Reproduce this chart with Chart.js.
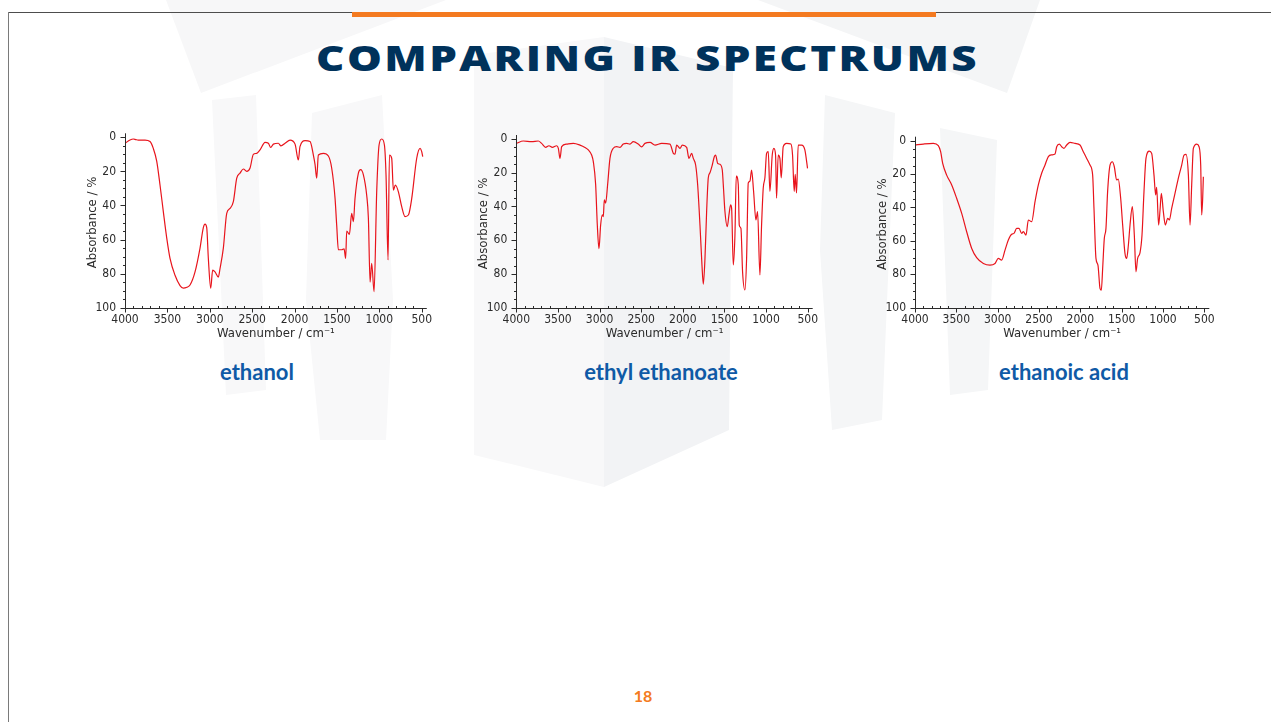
<!DOCTYPE html>
<html>
<head>
<meta charset="utf-8">
<title>Comparing IR spectrums</title>
<script src="https://cdn.jsdelivr.net/npm/chart.js@4.4.1/dist/chart.umd.min.js"></script>
<style>
  html, body { margin: 0; padding: 0; background: #fff; }
  body { width: 1271px; height: 722px; position: relative; overflow: hidden; font-family: Lato, "Open Sans", sans-serif; }
  svg.bg { position: absolute; left: 0; top: 0; }
  .frame-top { position: absolute; left: 8px; top: 12px; width: 1263px; height: 1px; background: #4d4d4d; }
  .frame-left { position: absolute; left: 8px; top: 12px; width: 1px; height: 710px; background: #7a7a7a; }
  .accent { position: absolute; left: 352px; top: 12px; width: 584px; height: 5px; background: #f47a20; }
  #title { position: absolute; left: 316px; top: 33px; margin: 0; font-family: "Open Sans", Lato, sans-serif; font-weight: 800;
           font-size: 36px; line-height: 50px; letter-spacing: 2px; color: #00325b; white-space: nowrap;
           transform-origin: 0 50%; }
  canvas { position: absolute; }
  .cap { position: absolute; font-family: Lato, sans-serif; font-weight: 700; font-size: 22px; line-height: 22px;
         color: #0f5aa6; white-space: nowrap; transform: translateX(-50%); }
  .page { position: absolute; left: 643px; top: 688px; transform: translateX(-50%); font-family: Lato, sans-serif;
          font-weight: 700; font-size: 16px; line-height: 16px; color: #f47a20; }
</style>
</head>
<body>
<svg class="bg" width="1271" height="722" viewBox="0 0 1271 722">
  <polygon points="166,0 446,0 201,93" fill="#f7f7f8"/>
  <polygon points="758,0 1040,0 1007,93" fill="#f4f5f6"/>
  <polygon points="474,55 604,37 604,487 474,455" fill="#f8f8f9"/>
  <polygon points="604,37 733,68 729,430 604,487" fill="#f2f3f5"/>
  <polygon points="212,100 256,95 266,390 226,395" fill="#f8f8f9"/>
  <polygon points="312,113 382,95 393,300 386,440 320,440 306,300" fill="#f8f8f9"/>
  <polygon points="825,95 895,113 882,420 832,430 820,250" fill="#f5f6f7"/>
  <polygon points="940,128 997,140 988,390 950,395" fill="#f5f6f7"/>
</svg>
<div class="frame-top"></div>
<div class="frame-left"></div>
<div class="accent"></div>
<h1 id="title">COMPARING IR SPECTRUMS</h1>

<canvas id="chartEthanol"></canvas>
<canvas id="chartEster"></canvas>
<canvas id="chartAcid"></canvas>

<div class="cap" style="left:257px; top:361px;">ethanol</div>
<div class="cap" style="left:661px; top:361px;">ethyl ethanoate</div>
<div class="cap" style="left:1064px; top:361px;">ethanoic acid</div>
<div class="page">18</div>

<script>
// ---- spectra: wavenumber (cm-1) and absorbance (%) ----
const ethanolWn = [4000, 3941, 3902, 3870, 3843, 3764, 3705, 3666, 3626, 3587, 3548, 3508, 3469, 3410, 3351, 3312, 3270, 3233,
  3174, 3115, 3076, 3056, 3036, 3017, 2989, 2966, 2938, 2899, 2879, 2840, 2800, 2761, 2722, 2682, 2643, 2604, 2564, 2525,
  2486, 2446, 2407, 2348, 2309, 2281, 2250, 2191, 2160, 2112, 2053, 1994, 1955, 1936, 1876, 1817, 1778, 1758, 1739, 1719,
  1660, 1601, 1562, 1522, 1503, 1483, 1444, 1416, 1397, 1385, 1353, 1326, 1306, 1287, 1247, 1220, 1188, 1149, 1129, 1109,
  1090, 1062, 1031, 1003, 972, 940, 921, 897, 881, 854, 834, 811, 775, 736, 697, 657, 618, 559, 519, 500, 488];
const ethanolAbs = [3.5, 1.6, 1.0, 1.4, 1.6, 1.6, 2.5, 6.5, 14, 28, 43.6, 59, 71, 81, 87, 88.5, 88, 86.7,
  79, 65, 53, 51, 53, 71, 88.6, 78, 79, 82, 77, 65, 44.6, 41.7, 37.8, 24, 21, 18.6, 20, 18,
  10, 9.4, 7.4, 3, 3.5, 6, 4, 3.5, 5, 3.5, 1.6, 4, 13.3, 5.5, 2, 2.5, 10.4, 16, 24, 10.4,
  9.4, 11, 18, 36, 51.5, 66, 66, 65.5, 71, 55, 57, 44.6, 49.5, 36, 21, 19, 22, 34, 47.5, 85,
  74, 90.6, 32, 4.5, 1, 4.5, 22, 72, 10.4, 12.3, 31, 28, 32, 40.7, 46.5, 45.6, 36, 12.3, 6.5, 8.4, 11.3];

const esterWn = [4000, 3916, 3816, 3736, 3696, 3648, 3608, 3567, 3515, 3495, 3475, 3455, 3395, 3315, 3235, 3175, 3135, 3095,
  3075, 3047, 3027, 3007, 2987, 2967, 2955, 2943, 2927, 2903, 2875, 2835, 2795, 2755, 2715, 2675, 2635, 2595, 2535, 2495,
  2455, 2394, 2334, 2254, 2154, 2114, 2094, 2074, 2034, 2006, 1954, 1926, 1894, 1874, 1846, 1822, 1794, 1770, 1754, 1734,
  1714, 1694, 1674, 1646, 1622, 1606, 1582, 1554, 1526, 1514, 1494, 1466, 1446, 1426, 1414, 1394, 1374, 1358, 1334, 1322,
  1302, 1282, 1254, 1234, 1214, 1194, 1174, 1150, 1122, 1102, 1074, 1054, 1034, 1014, 994, 974, 954, 926, 906, 886, 874,
  854, 834, 818, 794, 754, 702, 682, 662, 650, 634, 614, 574, 534, 502];
const esterAbs = [2.6, 1.2, 1.6, 1.2, 2.6, 5, 4, 5, 4, 5.5, 11.5, 4.5, 3, 2.6, 3.6, 5, 6.5, 9.5,
  13.4, 27, 51, 65, 51, 45, 46, 36, 38, 27, 11.5, 5.5, 4.5, 5, 3, 2.6, 3, 1.6, 3, 4.7,
  2.6, 2, 3.6, 2.6, 3, 8.5, 9, 3.6, 5.5, 3.6, 5, 11.5, 8.5, 11.5, 15.4, 27, 51, 74.7, 86, 71,
  43, 23, 20, 15.4, 10.5, 9.5, 14.4, 15, 18.4, 27, 43, 52, 45, 39, 41, 74.7, 57, 22, 27, 51,
  53, 79, 89.5, 71, 26, 25, 18.4, 31, 48, 43, 80.6, 51, 29, 23, 8.5, 7.5, 31, 9.5, 5.5, 9.5, 35,
  9.5, 11.5, 23, 4.5, 2.6, 3, 9.5, 31, 21, 32, 3.6, 3.6, 6.5, 17.4];

const acidWn = [4000, 3899, 3778, 3718, 3690, 3665, 3617, 3556, 3496, 3435, 3375, 3314, 3254, 3173, 3093, 3032, 2992, 2952,
  2911, 2871, 2831, 2803, 2770, 2742, 2710, 2690, 2657, 2629, 2589, 2548, 2508, 2468, 2427, 2387, 2347, 2306, 2286, 2254,
  2226, 2198, 2165, 2125, 2065, 2004, 1964, 1923, 1883, 1851, 1835, 1811, 1787, 1762, 1746, 1730, 1710, 1690, 1670, 1641,
  1613, 1589, 1561, 1541, 1512, 1488, 1460, 1440, 1419, 1399, 1371, 1347, 1327, 1307, 1278, 1254, 1230, 1206, 1166, 1137,
  1109, 1089, 1077, 1053, 1036, 1020, 996, 972, 943, 923, 895, 855, 815, 774, 746, 722, 693, 673, 653, 633, 592, 564, 544,
  532, 520, 512];
const acidAbs = [2.6, 2, 1.6, 3, 6.6, 13.6, 20.6, 26.5, 34.5, 43.5, 54.5, 64.5, 70, 73.5, 74.5, 73.5, 70.5, 71.5,
  65.5, 59.5, 56, 55.5, 52.5, 52.5, 55.5, 54.5, 56.5, 47.5, 48.5, 36.5, 26.5, 19.5, 14.5, 9.5, 8.5, 8, 3.6, 2,
  3.6, 4.6, 2.6, 1, 1.6, 2.6, 6.6, 10.6, 14.6, 20.6, 40.5, 70.5, 74.5, 88.4, 89.5, 76.5, 58.5, 52.5, 30.5, 14.6,
  12.6, 15.6, 23.5, 23, 34.5, 50.5, 67.5, 70.5, 62.6, 50.5, 39.5, 56.5, 78.5, 70.5, 67, 56.5, 30.5, 10.6, 6.2, 7.6,
  20.6, 32.5, 28, 50.5, 41.5, 31.6, 42.5, 50.5, 46.5, 47.5, 40.5, 31.6, 22.5, 14.6, 8.6, 8.2, 20.6, 50.5, 26.5, 4.6, 2, 3.6, 14.6,
  44.5, 34.5, 21.6];

// ---- axis ticks ----
const xTickValues = [4000, 3500, 3000, 2500, 2000, 1500, 1000, 500];
const yTickValues = [0, 20, 40, 60, 80, 100];

const AXIS_FONT = "'Liberation Sans Narrow', 'DejaVu Sans Condensed', 'Arial Narrow', sans-serif";
const INK = '#2b2b2b';
const Y_AXIS_W = 55;
const X_AXIS_H = 36;

// axis lines with major and minor tick marks
const axisTicks = {
  id: 'axisTicks',
  afterDraw(chart) {
    const { ctx, chartArea: a, scales: { x, y } } = chart;
    const left = Math.round(a.left) + 0.5;
    const bottom = Math.round(a.bottom) + 0.5;
    ctx.save();
    ctx.strokeStyle = INK;
    ctx.lineWidth = 1;
    ctx.beginPath();
    ctx.moveTo(left, a.top - 4);
    ctx.lineTo(left, bottom);
    ctx.lineTo(a.right, bottom);
    for (let v = y.min; v <= y.max; v += 5) {
      const py = Math.round(y.getPixelForValue(v)) + 0.5;
      const len = yTickValues.includes(v) ? 5 : 2.5;
      ctx.moveTo(left - len, py);
      ctx.lineTo(left, py);
    }
    for (let v = 500; v <= x.max; v += 100) {
      const px = Math.round(x.getPixelForValue(v)) + 0.5;
      const major = xTickValues.includes(v);
      ctx.moveTo(px, bottom + (major ? 4 : 0));
      ctx.lineTo(px, bottom - (major ? 0 : 2.5));
    }
    ctx.stroke();
    ctx.restore();
  }
};

function makeChart(id, box, plot, wn, abs) {
  const canvas = document.getElementById(id);
  canvas.width = box.w;
  canvas.height = box.h;
  canvas.style.left = box.x + 'px';
  canvas.style.top = box.y + 'px';
  const padding = {
    left: plot.l - box.x - Y_AXIS_W,
    top: plot.t - box.y,
    right: box.x + box.w - plot.r,
    bottom: box.y + box.h - plot.b - X_AXIS_H
  };
  const points = wn.map((w, i) => ({ x: w, y: abs[i] }));
  return new Chart(canvas, {
    type: 'line',
    data: {
      datasets: [{
        data: points,
        borderColor: '#e8141c',
        borderWidth: 1.2,
        pointRadius: 0,
        cubicInterpolationMode: 'monotone',
        fill: false
      }]
    },
    options: {
      responsive: false,
      animation: false,
      devicePixelRatio: 1,
      layout: { padding },
      plugins: { legend: { display: false }, tooltip: { enabled: false } },
      scales: {
        x: {
          type: 'linear',
          reverse: true,
          min: 440,
          max: 4000,
          afterBuildTicks: s => { s.ticks = xTickValues.map(v => ({ value: v })); },
          afterFit: s => { s.height = X_AXIS_H; s.paddingLeft = 0; s.paddingRight = 0; },
          grid: { display: false, drawTicks: false },
          border: { display: false },
          ticks: { font: { family: AXIS_FONT, size: 12 }, color: INK, padding: 5, maxRotation: 0, autoSkip: false,
                   callback: v => String(v) },
          title: { display: true, text: 'Wavenumber / cm⁻¹', color: INK,
                   font: { family: AXIS_FONT, size: 13 }, padding: { top: 0, bottom: 1.9 } }
        },
        y: {
          type: 'linear',
          reverse: true,
          min: 0,
          max: 100,
          afterBuildTicks: s => { s.ticks = yTickValues.map(v => ({ value: v })); },
          afterFit: s => { s.width = Y_AXIS_W; s.paddingTop = 0; s.paddingBottom = 0; },
          grid: { display: false, drawTicks: false },
          border: { display: false },
          ticks: { font: { family: AXIS_FONT, size: 12 }, color: INK, padding: 9, callback: v => String(v) },
          title: { display: true, text: 'Absorbance / %', color: INK,
                   font: { family: AXIS_FONT, size: 13 }, padding: { top: 14.7, bottom: 0 } }
        }
      }
    },
    plugins: [axisTicks]
  });
}

makeChart('chartEthanol', { x: 65, y: 125, w: 375, h: 222 }, { l: 125, t: 137.3, r: 426.8, b: 307.7 }, ethanolWn, ethanolAbs);
makeChart('chartEster', { x: 455, y: 125, w: 370, h: 222 }, { l: 516.3, t: 139, r: 812.7, b: 307.7 }, esterWn, esterAbs);
makeChart('chartAcid', { x: 855, y: 125, w: 370, h: 222 }, { l: 915, t: 140.7, r: 1209.3, b: 307.7 }, acidWn, acidAbs);

// stretch the heading across its band
(function fitTitle() {
  const t = document.getElementById('title');
  const span = 663;
  const w = t.getBoundingClientRect().width;
  t.style.transform = 'scaleX(' + (span / w) + ')';
})();
</script>
</body>
</html>
